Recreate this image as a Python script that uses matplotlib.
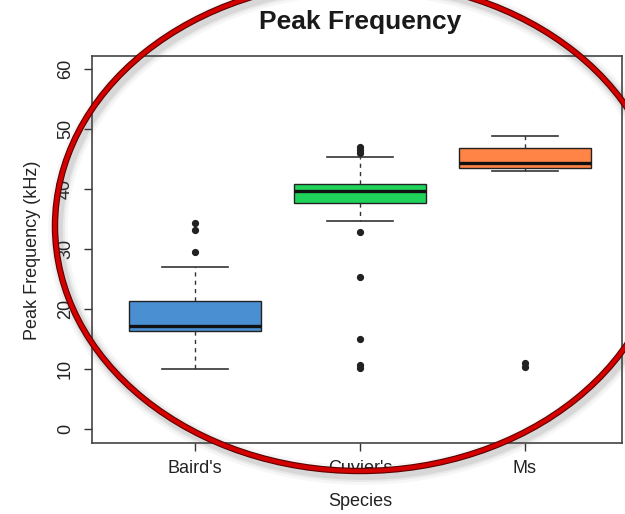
import numpy as np
import matplotlib
matplotlib.use("Agg")
import matplotlib.pyplot as plt
from matplotlib.patches import Ellipse

plt.rcParams['font.family'] = ['Liberation Sans', 'DejaVu Sans']

# values (kHz)
species = ["Baird's", "Cuvier's", "Ms"]
box_colors = ["#4a8fd2", "#1fd35a", "#ff8446"]
q1 = [16.4, 37.6, 43.5]
medians = [17.2, 39.7, 44.3]
q3 = [21.3, 40.9, 46.9]
whisker_lo = [10.0, 34.6, 43.0]
whisker_hi = [27.0, 45.3, 48.8]
outliers = [
    [29.5, 33.2, 34.3],
    [47.0, 46.5, 46.0, 32.8, 25.3, 15.0, 10.7, 10.2],
    [11.0, 10.4],
]
y_ticks = [0, 10, 20, 30, 40, 50, 60]

W, H = 625, 514
fig = plt.figure(figsize=(W / 100, H / 100), dpi=100)
fig.patch.set_facecolor("white")

# plot region in pixels: left 92, right 622, top 56, bottom 443
ax = fig.add_axes([92 / W, 1 - 443 / H, (622 - 92) / W, (443 - 56) / H])

stats = []
for i, name in enumerate(species):
    stats.append({'label': name, 'q1': q1[i], 'med': medians[i], 'q3': q3[i],
                  'whislo': whisker_lo[i], 'whishi': whisker_hi[i],
                  'fliers': outliers[i]})

bp = ax.bxp(stats, positions=[1, 2, 3], widths=0.8, capwidths=0.4,
            patch_artist=True, showfliers=True,
            boxprops=dict(edgecolor="#222222", linewidth=1.0),
            medianprops=dict(color="#111111", linewidth=2.4, solid_capstyle="butt"),
            whiskerprops=dict(color="#333333", linewidth=1.0, linestyle=(0, (3, 3))),
            capprops=dict(color="#333333", linewidth=1.2),
            flierprops=dict(marker="o", markersize=4.2, markerfacecolor="#222222",
                            markeredgecolor="#222222"))
for patch, c in zip(bp['boxes'], box_colors):
    patch.set_facecolor(c)

ax.set_xlim(0.376, 3.588)
ax.set_ylim(-2.33, 62.17)
ax.set_yticks(y_ticks)
ax.set_yticklabels([str(t) for t in y_ticks], rotation=90, va="center")
ax.set_xticks([1, 2, 3])
ax.set_xticklabels(species)
ax.tick_params(axis="both", direction="out", length=6, width=1.0, color="#333333",
               labelsize=13, labelcolor="#222222")
ax.tick_params(axis="y", pad=7)
ax.tick_params(axis="x", pad=6)
for s in ax.spines.values():
    s.set_color("#444444")
    s.set_linewidth(1.2)

fig.text(360 / W, 1 - 22 / H, "Peak Frequency", ha="center", va="center",
         fontsize=19, fontweight="bold", color="#1a1a1a")
fig.text(33 / W, 1 - 250 / H, "Peak Frequency (kHz)", ha="center", va="center",
         rotation=90, fontsize=13, color="#222222")
fig.text(360 / W, 1 - 501 / H, "Species", ha="center", va="center",
         fontsize=13, color="#222222")

# red ellipse drawn over the chart, in pixel coordinates
over = fig.add_axes([0, 0, 1, 1], zorder=10)
over.set_xlim(0, W)
over.set_ylim(H, 0)
over.axis("off")
over.patch.set_alpha(0)
cx, cy, ew, eh = 360, 226, 610, 490
for lw, a in [(14, 0.05), (10, 0.08), (7, 0.12)]:
    over.add_patch(Ellipse((cx + 3, cy + 4), ew, eh, fill=False,
                           edgecolor="#555555", linewidth=lw, alpha=a))
over.add_patch(Ellipse((cx, cy), ew, eh, fill=False, edgecolor="#5a0000", linewidth=4.6))
over.add_patch(Ellipse((cx, cy), ew, eh, fill=False, edgecolor="#d40000", linewidth=3.0))

fig.savefig("out.png", dpi=100)
